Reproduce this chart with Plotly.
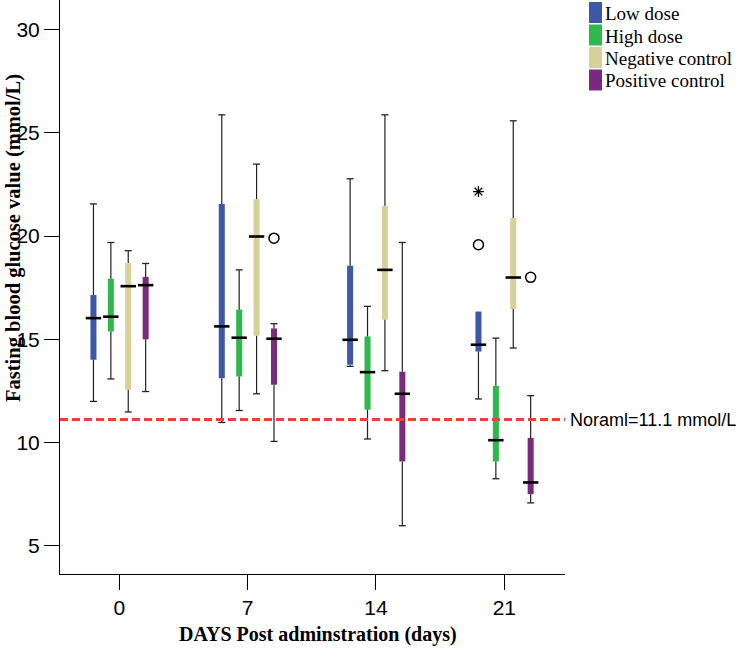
import plotly.graph_objects as go

days = ["0", "7", "14", "21"]
series = ["Low dose", "High dose", "Negative control", "Positive control"]
colors = ["#3e58a8", "#2fb84b", "#d6d19b", "#7a2a7d"]

# five-number summaries per series, one value per day
lower = {
    "Low dose": [11.98, 10.96, 13.68, 12.10],
    "High dose": [13.07, 11.54, 10.16, 8.23],
    "Negative control": [11.47, 12.35, 13.47, 14.57],
    "Positive control": [12.46, 10.04, 5.95, 7.06],
}
q1 = {
    "Low dose": [14.00, 13.11, 13.76, 14.40],
    "High dose": [15.37, 13.19, 11.58, 9.07],
    "Negative control": [12.55, 15.16, 15.94, 16.46],
    "Positive control": [14.99, 12.79, 9.07, 7.49],
}
median = {
    "Low dose": [16.02, 15.62, 14.97, 14.73],
    "High dose": [16.09, 15.07, 13.40, 10.10],
    "Negative control": [17.57, 19.98, 18.36, 17.99],
    "Positive control": [17.62, 15.02, 12.35, 8.05],
}
q3 = {
    "Low dose": [17.14, 21.55, 18.56, 16.34],
    "High dose": [17.93, 16.43, 15.13, 12.74],
    "Negative control": [18.69, 21.79, 21.47, 20.88],
    "Positive control": [18.02, 15.52, 13.42, 10.21],
}
upper = {
    "Low dose": [21.56, 25.88, 22.78, 16.34],
    "High dose": [19.69, 18.36, 16.59, 15.05],
    "Negative control": [19.29, 23.49, 25.88, 25.59],
    "Positive control": [18.67, 15.75, 19.69, 12.26],
}
# outliers: (series, day index, value)
outlier_circles = [("Positive control", 1, 19.90), ("Low dose", 3, 19.58), ("Positive control", 3, 18.00)]
outlier_stars = [("Low dose", 3, 22.16)]

normal_value = 11.1
normal_label = "Noraml=11.1 mmol/L"

W, H = 740, 656
ML, MR, MT, MB = 60, 175, 0, 82
PW, PH = W - ML - MR, H - MT - MB

def px_x(p):  # pixel -> paper x
    return (p - ML) / PW

def px_y(p):  # pixel -> paper y
    return (H - MB - p) / PH

step = 0.1356
box_w = 0.047

fig = go.Figure()

def xpos(si, di):
    return di + (si - 1.5) * step + 0.002

for si, s in enumerate(series):
    xs = [xpos(si, d) for d in range(len(days))]
    fig.add_trace(go.Bar(
        x=xs, base=q1[s], y=[b - a for a, b in zip(q1[s], q3[s])],
        width=box_w, marker=dict(color=colors[si], line=dict(width=0)),
        name=s, showlegend=False,
    ))

for si, s in enumerate(series):
    wx, wy, cx, cy = [], [], [], []
    for d in range(len(days)):
        x = xpos(si, d)
        if upper[s][d] > q3[s][d]:
            wx += [x, x, None]; wy += [q3[s][d], upper[s][d], None]
            cx.append(x); cy.append(upper[s][d])
        if lower[s][d] < q1[s][d]:
            wx += [x, x, None]; wy += [q1[s][d], lower[s][d], None]
            cx.append(x); cy.append(lower[s][d])
    fig.add_trace(go.Scatter(x=wx, y=wy, mode="lines", line=dict(color="#222", width=1.2),
                             showlegend=False, hoverinfo="skip"))
    fig.add_trace(go.Scatter(x=cx, y=cy, mode="markers",
                             marker=dict(symbol="line-ew", size=5, line=dict(color="#222", width=1.3)),
                             showlegend=False, hoverinfo="skip"))
    fig.add_trace(go.Scatter(x=[xpos(si, d) for d in range(len(days))], y=median[s], mode="markers",
                             marker=dict(symbol="line-ew", size=11, line=dict(color="black", width=2.6)),
                             showlegend=False, hoverinfo="skip"))

fig.add_trace(go.Scatter(
    x=[xpos(series.index(s), d) for s, d, v in outlier_circles],
    y=[v for s, d, v in outlier_circles], mode="markers",
    marker=dict(symbol="circle-open", size=10, color="black", line=dict(width=1.5)),
    showlegend=False, hoverinfo="skip"))
fig.add_trace(go.Scatter(
    x=[xpos(series.index(s), d) for s, d, v in outlier_stars],
    y=[v for s, d, v in outlier_stars], mode="markers",
    marker=dict(symbol="asterisk-open", size=9, color="black", line=dict(width=1.3, color="black")),
    showlegend=False, hoverinfo="skip"))

fig.add_shape(type="line", xref="paper", x0=0, x1=1, yref="y", y0=normal_value, y1=normal_value,
              line=dict(color="#e8423f", width=3, dash="8px,4px"))
fig.add_annotation(xref="paper", x=1.0, xanchor="left", xshift=3, yref="y", y=normal_value,
                   yanchor="middle", text=normal_label, showarrow=False,
                   font=dict(family="Liberation Sans, Arial", size=18, color="black"))

# legend drawn as swatches + labels
leg_top, leg_row = 2, 22.5
for si, s in enumerate(series):
    y0 = leg_top + si * leg_row
    fig.add_shape(type="rect", xref="paper", yref="paper",
                  x0=px_x(589), x1=px_x(602), y0=px_y(y0 + 21), y1=px_y(y0),
                  fillcolor=colors[si], line=dict(width=0))
    fig.add_annotation(xref="paper", yref="paper", x=px_x(603), y=px_y(y0 + 11.5),
                       xanchor="left", yanchor="middle", text=s, showarrow=False,
                       font=dict(family="Liberation Serif, Times New Roman", size=19, color="black"))

fig.add_annotation(xref="paper", yref="paper", x=px_x(13), y=px_y(238), textangle=-90,
                   xanchor="center", yanchor="middle",
                   text="<b>Fasting blood glucose value (mmol/L)</b>", showarrow=False,
                   font=dict(family="Liberation Serif, Times New Roman", size=20.5, color="black"))
fig.add_annotation(xref="paper", yref="paper", x=px_x(318), y=px_y(634),
                   xanchor="center", yanchor="middle",
                   text="<b>DAYS Post adminstration (days)</b>", showarrow=False,
                   font=dict(family="Liberation Serif, Times New Roman", size=20, color="black"))

fig.update_layout(
    width=W, height=H,
    margin=dict(l=ML, r=MR, t=MT, b=MB, autoexpand=False),
    plot_bgcolor="white", paper_bgcolor="white",
    barmode="overlay",
    showlegend=False,
    xaxis=dict(range=[-0.462, 3.473], tickvals=list(range(len(days))), ticktext=days,
               showgrid=False, zeroline=False, showline=True, linecolor="black", linewidth=1,
               ticks="outside", ticklen=15, tickcolor="black", tickwidth=1, automargin=False,
               tickfont=dict(family="Liberation Sans, Arial", size=21, color="black")),
    yaxis=dict(range=[3.61, 31.45], tickvals=[5, 10, 15, 20, 25, 30],
               showgrid=False, zeroline=False, showline=True, linecolor="black", linewidth=1,
               ticks="outside", ticklen=15, tickcolor="black", tickwidth=1, automargin=False,
               tickfont=dict(family="Liberation Sans, Arial", size=21, color="black")),
)

fig.write_html("out.html", config={"displayModeBar": False},
               post_script="document.body.style.margin='0';")
